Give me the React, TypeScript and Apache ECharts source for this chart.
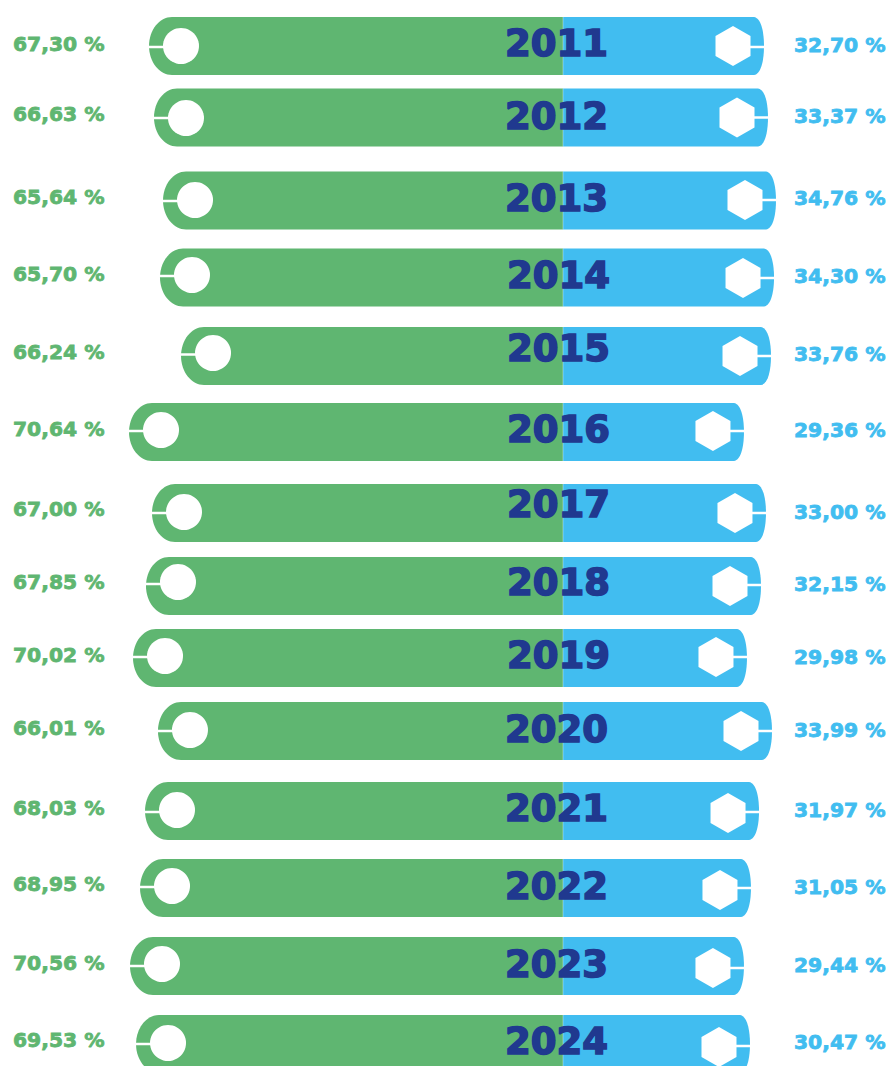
import React, { useEffect, useRef } from "react";
import * as echarts from "echarts";

const years = ["2011","2012","2013","2014","2015","2016","2017","2018","2019","2020","2021","2022","2023","2024"];
// Printed percentages
const greenLabels = [67.30,66.63,65.64,65.70,66.24,70.64,67.00,67.85,70.02,66.01,68.03,68.95,70.56,69.53];
const blueLabels = [32.70,33.37,34.76,34.30,33.76,29.36,33.00,32.15,29.98,33.99,31.97,31.05,29.44,30.47];
// Bar lengths as drawn in the picture (they differ slightly from the printed numbers)
const greenDrawn = [67.35,66.54,65.07,65.56,62.14,70.60,66.86,67.84,69.95,65.89,68.00,68.81,70.44,69.46];
const blueDrawn = [32.70,33.35,34.65,34.33,33.84,29.44,33.02,32.21,29.93,34.00,31.89,30.58,29.44,30.42];
// Vertical placement on the (hidden) y axis: the source spaces rows unevenly
const rowY = [46,117.5,200.5,277.5,356,432,513,586,658,731,811,888,966,1044];
const circleY = [46,118,200,275,353,430,512,582,656,730,810,886,964,1043];
const hexY = [46,117.5,200,278,356,431,513,586,657,731,813,890,968,1047];
const tickLeftY = [47,118,201,276,354.5,431,513,584,657,731,812,887,966,1044];
const tickRightY = [47,117.5,200,278,356,431,513,585,657,731,812,888,968,1046];
const yearY = [43,116,198,275,348,429,504,582,655,729,808,886,964,1041];
const yearX = [505,505,505,507,507,507,507,507,507,505,505,505,505,505];
const greenLabelY = [44,114,197,274,352,429,509,582,655,728,808,884,963,1040];
const blueLabelY = [45,116,198,276,354,430,512,584,657,730,810,887,965,1042];

const GREEN = "#5fb671";
const BLUE = "#41bdf0";
const NAVY = "#20398f";
const W = 889;
const H = 1066;
const ZERO_PX = 563;
const UNIT_PX = 6.147;
const FONT = "'DejaVu Sans'";
const fmt = (v: number) => v.toFixed(2).replace(".", ",") + " %";

function leftPath(l: number, c: number, t: number, b: number, r: number) {
  const rx = 23;
  return `M${r} ${t}L${l + rx} ${t}C${l + rx * 0.45} ${t} ${l} ${t + (c - t) * 0.45} ${l} ${c}C${l} ${b - (b - c) * 0.45} ${l + rx * 0.45} ${b} ${l + rx} ${b}L${r} ${b}Z`;
}
function rightPath(l: number, c: number, t: number, b: number, r: number) {
  const rx = 10;
  return `M${l} ${t}L${r - rx} ${t}C${r - rx * 0.3} ${t + 1} ${r} ${t + (c - t) * 0.5} ${r} ${c}C${r} ${b - (b - c) * 0.5} ${r - rx * 0.3} ${b - 1} ${r - rx} ${b}L${l} ${b}Z`;
}

export default function App() {
  const ref = useRef<HTMLDivElement>(null);
  useEffect(() => {
    document.body.style.margin = "0";
    const chart = echarts.init(ref.current!, null, { renderer: "svg" });
    const renderItem = (params: any, api: any) => {
      const i = params.dataIndex;
      const cy = api.coord([0, rowY[i]])[1];
      const top = cy - 29;
      const bot = cy + 29;
      const zero = api.coord([0, rowY[i]])[0];
      const lx = api.coord([-greenDrawn[i], rowY[i]])[0];
      const rx = api.coord([blueDrawn[i], rowY[i]])[0];
      const cx = lx + 32;
      const hx = rx - 31;
      const hy = api.coord([0, hexY[i]])[1];
      const hw = 17.5;
      const hh = 20;
      const cly = api.coord([0, circleY[i]])[1];
      return {
        type: "group",
        children: [
          { type: "path", shape: { pathData: leftPath(lx, cy, top, bot, zero), x: lx, y: top, width: zero - lx, height: 58, layout: "cover" }, style: { fill: GREEN } },
          { type: "path", shape: { pathData: rightPath(zero, cy, top, bot, rx), x: zero, y: top, width: rx - zero, height: 58, layout: "cover" }, style: { fill: BLUE } },
          { type: "rect", shape: { x: zero - 0.5, y: top, width: 1, height: 58 }, style: { fill: "rgba(255,255,255,0.35)" } },
          { type: "rect", shape: { x: lx - 1, y: tickLeftY[i] - 1.25, width: cx - lx, height: 2.5 }, style: { fill: "#fff" } },
          { type: "circle", shape: { cx, cy: cly, r: 18 }, style: { fill: "#fff" } },
          { type: "rect", shape: { x: hx, y: tickRightY[i] - 1.25, width: rx - hx + 1, height: 2.5 }, style: { fill: "#fff" } },
          { type: "polygon", shape: { points: [[hx, hy - hh], [hx + hw, hy - hh / 2], [hx + hw, hy + hh / 2], [hx, hy + hh], [hx - hw, hy + hh / 2], [hx - hw, hy - hh / 2]] }, style: { fill: "#fff" } },
          { type: "text", x: yearX[i], y: yearY[i], style: { text: years[i], fill: NAVY, stroke: NAVY, lineWidth: 1.6, font: `bold 37px ${FONT}`, textAlign: "left", textVerticalAlign: "middle" } },
          { type: "text", x: 13, y: greenLabelY[i], style: { text: fmt(greenLabels[i]), fill: GREEN, stroke: GREEN, lineWidth: 0.8, font: `bold 20.3px ${FONT}`, textAlign: "left", textVerticalAlign: "middle" } },
          { type: "text", x: 794, y: blueLabelY[i], style: { text: fmt(blueLabels[i]), fill: BLUE, stroke: BLUE, lineWidth: 0.8, font: `bold 20.3px ${FONT}`, textAlign: "left", textVerticalAlign: "middle" } },
        ],
      };
    };
    chart.setOption({
      animation: false,
      backgroundColor: "#fff",
      grid: { left: 0, right: 0, top: 0, bottom: 0 },
      xAxis: { type: "value", min: -ZERO_PX / UNIT_PX, max: (W - ZERO_PX) / UNIT_PX, show: false },
      yAxis: { type: "value", min: 0, max: H, inverse: true, show: false },
      series: [
        {
          type: "custom",
          clip: true,
          renderItem,
          data: years.map((y, i) => [greenDrawn[i], rowY[i], blueDrawn[i]]),
          encode: { x: 0, y: 1 },
        },
      ],
    });
    return () => chart.dispose();
  }, []);
  return <div ref={ref} style={{ width: W, height: H }} />;
}
